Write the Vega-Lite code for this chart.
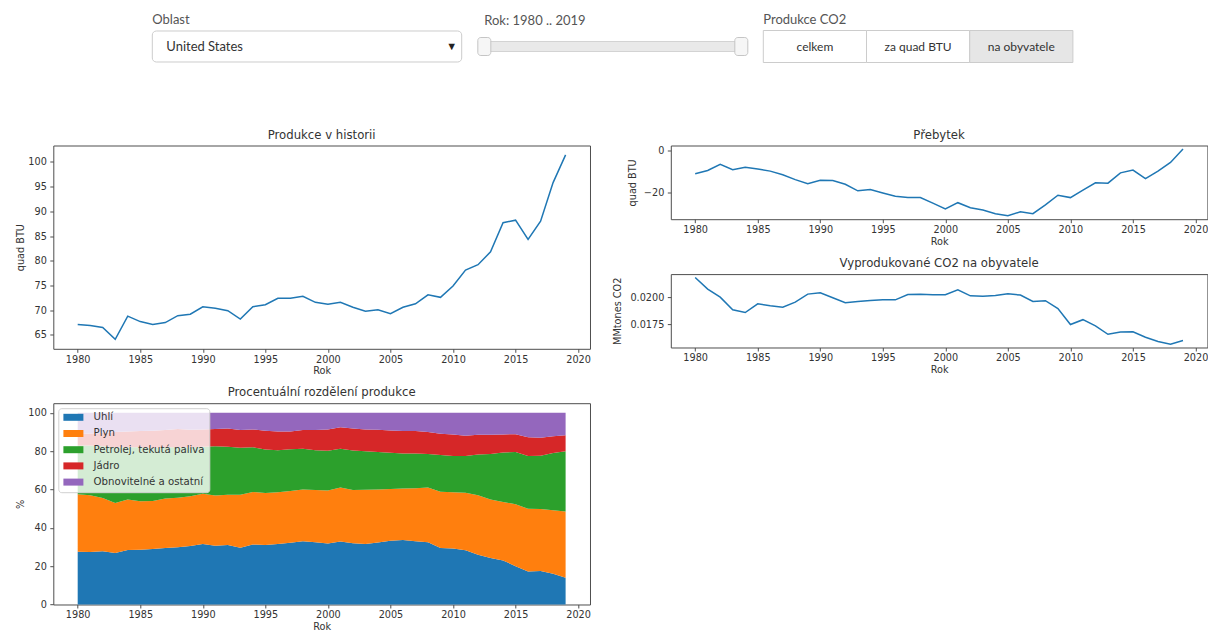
{
  "$schema": "https://vega.github.io/schema/vega-lite/v6.json",
  "padding": {"left": 15.3, "top": 13.5, "right": 0, "bottom": 0},
  "background": "white",
  "config": {
    "view": {"stroke": "#4d4d4d", "strokeWidth": 1},
    "axis": {"labelFont": "DejaVu Sans", "labelFontSize": 9.7, "labelColor": "#333333", "titleFont": "DejaVu Sans", "titleFontSize": 9.7, "titleFontWeight": "normal", "titleColor": "#333333", "tickColor": "#4d4d4d", "tickSize": 3.5, "tickWidth": 1, "domain": false, "grid": false, "labelFlush": false, "labelOverlap": false},
    "axisX": {"labelPadding": 2, "titlePadding": 2},
    "axisY": {"labelPadding": 3.5},
    "title": {"font": "DejaVu Sans", "fontSize": 11.7, "fontWeight": "normal", "color": "#333333", "frame": "group", "anchor": "middle", "baseline": "bottom", "offset": 4},
    "line": {"color": "#1f77b4", "strokeWidth": 1.5}
  },
  "datasets": {
    "oblast": [{"oblast": "United States"}],
    "rok": [{"Rok": 1980}, {"Rok": 2019}],
    "tlacitka": [
      {"tlacitko": "celkem", "vybrano": "ne"},
      {"tlacitko": "za quad BTU", "vybrano": "ne"},
      {"tlacitko": "na obyvatele", "vybrano": "ano"}
    ],
    "rocni": [
      {"Rok": 1980, "Produkce": 67.1, "Prebytek": -10.9, "CO2": 0.02182},
      {"Rok": 1981, "Produkce": 66.9, "Prebytek": -9.4, "CO2": 0.02074},
      {"Rok": 1982, "Produkce": 66.5, "Prebytek": -6.5, "CO2": 0.02000},
      {"Rok": 1983, "Produkce": 64.1, "Prebytek": -9.0, "CO2": 0.01883},
      {"Rok": 1984, "Produkce": 68.8, "Prebytek": -7.9, "CO2": 0.01858},
      {"Rok": 1985, "Produkce": 67.7, "Prebytek": -8.7, "CO2": 0.01938},
      {"Rok": 1986, "Produkce": 67.1, "Prebytek": -9.7, "CO2": 0.01920},
      {"Rok": 1987, "Produkce": 67.5, "Prebytek": -11.4, "CO2": 0.01907},
      {"Rok": 1988, "Produkce": 68.9, "Prebytek": -13.7, "CO2": 0.01954},
      {"Rok": 1989, "Produkce": 69.2, "Prebytek": -15.6, "CO2": 0.02028},
      {"Rok": 1990, "Produkce": 70.7, "Prebytek": -14.0, "CO2": 0.02040},
      {"Rok": 1991, "Produkce": 70.4, "Prebytek": -14.1, "CO2": 0.01994},
      {"Rok": 1992, "Produkce": 69.9, "Prebytek": -15.9, "CO2": 0.01948},
      {"Rok": 1993, "Produkce": 68.2, "Prebytek": -19.0, "CO2": 0.01960},
      {"Rok": 1994, "Produkce": 70.7, "Prebytek": -18.4, "CO2": 0.01969},
      {"Rok": 1995, "Produkce": 71.1, "Prebytek": -20.0, "CO2": 0.01975},
      {"Rok": 1996, "Produkce": 72.4, "Prebytek": -21.6, "CO2": 0.01975},
      {"Rok": 1997, "Produkce": 72.4, "Prebytek": -22.2, "CO2": 0.02025},
      {"Rok": 1998, "Produkce": 72.8, "Prebytek": -22.2, "CO2": 0.02028},
      {"Rok": 1999, "Produkce": 71.6, "Prebytek": -24.8, "CO2": 0.02022},
      {"Rok": 2000, "Produkce": 71.2, "Prebytek": -27.6, "CO2": 0.02022},
      {"Rok": 2001, "Produkce": 71.6, "Prebytek": -24.6, "CO2": 0.02068},
      {"Rok": 2002, "Produkce": 70.6, "Prebytek": -27.0, "CO2": 0.02012},
      {"Rok": 2003, "Produkce": 69.8, "Prebytek": -28.1, "CO2": 0.02009},
      {"Rok": 2004, "Produkce": 70.1, "Prebytek": -29.8, "CO2": 0.02015},
      {"Rok": 2005, "Produkce": 69.3, "Prebytek": -30.8, "CO2": 0.02031},
      {"Rok": 2006, "Produkce": 70.6, "Prebytek": -28.9, "CO2": 0.02019},
      {"Rok": 2007, "Produkce": 71.3, "Prebytek": -29.8, "CO2": 0.01961},
      {"Rok": 2008, "Produkce": 73.1, "Prebytek": -25.6, "CO2": 0.01967},
      {"Rok": 2009, "Produkce": 72.6, "Prebytek": -21.1, "CO2": 0.01895},
      {"Rok": 2010, "Produkce": 74.9, "Prebytek": -22.2, "CO2": 0.01747},
      {"Rok": 2011, "Produkce": 78.1, "Prebytek": -18.7, "CO2": 0.01792},
      {"Rok": 2012, "Produkce": 79.2, "Prebytek": -15.2, "CO2": 0.01735},
      {"Rok": 2013, "Produkce": 81.8, "Prebytek": -15.4, "CO2": 0.01657},
      {"Rok": 2014, "Produkce": 87.7, "Prebytek": -10.5, "CO2": 0.01678},
      {"Rok": 2015, "Produkce": 88.2, "Prebytek": -9.2, "CO2": 0.01681},
      {"Rok": 2016, "Produkce": 84.3, "Prebytek": -13.2, "CO2": 0.01630},
      {"Rok": 2017, "Produkce": 88.0, "Prebytek": -9.7, "CO2": 0.01590},
      {"Rok": 2018, "Produkce": 95.8, "Prebytek": -5.6, "CO2": 0.01566},
      {"Rok": 2019, "Produkce": 101.4, "Prebytek": 0.8, "CO2": 0.01599}
    ],
    "podil": [
      {"Rok":1980,"zdroj":"Uhlí","k":1,"podil":27.5},{"Rok":1980,"zdroj":"Plyn","k":2,"podil":30.0},{"Rok":1980,"zdroj":"Petrolej, tekutá paliva","k":3,"podil":25.5},{"Rok":1980,"zdroj":"Jádro","k":4,"podil":5.8},{"Rok":1980,"zdroj":"Obnovitelné a ostatní","k":5,"podil":11.2},
      {"Rok":1981,"zdroj":"Uhlí","k":1,"podil":27.4},{"Rok":1981,"zdroj":"Plyn","k":2,"podil":29.6},{"Rok":1981,"zdroj":"Petrolej, tekutá paliva","k":3,"podil":26.0},{"Rok":1981,"zdroj":"Jádro","k":4,"podil":6.2},{"Rok":1981,"zdroj":"Obnovitelné a ostatní","k":5,"podil":10.8},
      {"Rok":1982,"zdroj":"Uhlí","k":1,"podil":27.8},{"Rok":1982,"zdroj":"Plyn","k":2,"podil":27.7},{"Rok":1982,"zdroj":"Petrolej, tekutá paliva","k":3,"podil":27.0},{"Rok":1982,"zdroj":"Jádro","k":4,"podil":7.0},{"Rok":1982,"zdroj":"Obnovitelné a ostatní","k":5,"podil":10.5},
      {"Rok":1983,"zdroj":"Uhlí","k":1,"podil":26.8},{"Rok":1983,"zdroj":"Plyn","k":2,"podil":26.2},{"Rok":1983,"zdroj":"Petrolej, tekutá paliva","k":3,"podil":29.0},{"Rok":1983,"zdroj":"Jádro","k":4,"podil":8.0},{"Rok":1983,"zdroj":"Obnovitelné a ostatní","k":5,"podil":10.0},
      {"Rok":1984,"zdroj":"Uhlí","k":1,"podil":28.4},{"Rok":1984,"zdroj":"Plyn","k":2,"podil":26.4},{"Rok":1984,"zdroj":"Petrolej, tekutá paliva","k":3,"podil":27.2},{"Rok":1984,"zdroj":"Jádro","k":4,"podil":8.3},{"Rok":1984,"zdroj":"Obnovitelné a ostatní","k":5,"podil":9.7},
      {"Rok":1985,"zdroj":"Uhlí","k":1,"podil":28.5},{"Rok":1985,"zdroj":"Plyn","k":2,"podil":25.3},{"Rok":1985,"zdroj":"Petrolej, tekutá paliva","k":3,"podil":28.2},{"Rok":1985,"zdroj":"Jádro","k":4,"podil":8.5},{"Rok":1985,"zdroj":"Obnovitelné a ostatní","k":5,"podil":9.5},
      {"Rok":1986,"zdroj":"Uhlí","k":1,"podil":28.9},{"Rok":1986,"zdroj":"Plyn","k":2,"podil":25.1},{"Rok":1986,"zdroj":"Petrolej, tekutá paliva","k":3,"podil":27.6},{"Rok":1986,"zdroj":"Jádro","k":4,"podil":9.0},{"Rok":1986,"zdroj":"Obnovitelné a ostatní","k":5,"podil":9.4},
      {"Rok":1987,"zdroj":"Uhlí","k":1,"podil":29.5},{"Rok":1987,"zdroj":"Plyn","k":2,"podil":25.8},{"Rok":1987,"zdroj":"Petrolej, tekutá paliva","k":3,"podil":26.7},{"Rok":1987,"zdroj":"Jádro","k":4,"podil":9.0},{"Rok":1987,"zdroj":"Obnovitelné a ostatní","k":5,"podil":9.0},
      {"Rok":1988,"zdroj":"Uhlí","k":1,"podil":29.8},{"Rok":1988,"zdroj":"Plyn","k":2,"podil":25.9},{"Rok":1988,"zdroj":"Petrolej, tekutá paliva","k":3,"podil":26.3},{"Rok":1988,"zdroj":"Jádro","k":4,"podil":9.5},{"Rok":1988,"zdroj":"Obnovitelné a ostatní","k":5,"podil":8.5},
      {"Rok":1989,"zdroj":"Uhlí","k":1,"podil":30.5},{"Rok":1989,"zdroj":"Plyn","k":2,"podil":26.0},{"Rok":1989,"zdroj":"Petrolej, tekutá paliva","k":3,"podil":25.5},{"Rok":1989,"zdroj":"Jádro","k":4,"podil":9.2},{"Rok":1989,"zdroj":"Obnovitelné a ostatní","k":5,"podil":8.8},
      {"Rok":1990,"zdroj":"Uhlí","k":1,"podil":31.5},{"Rok":1990,"zdroj":"Plyn","k":2,"podil":26.3},{"Rok":1990,"zdroj":"Petrolej, tekutá paliva","k":3,"podil":24.5},{"Rok":1990,"zdroj":"Jádro","k":4,"podil":9.0},{"Rok":1990,"zdroj":"Obnovitelné a ostatní","k":5,"podil":8.7},
      {"Rok":1991,"zdroj":"Uhlí","k":1,"podil":30.7},{"Rok":1991,"zdroj":"Plyn","k":2,"podil":26.1},{"Rok":1991,"zdroj":"Petrolej, tekutá paliva","k":3,"podil":25.7},{"Rok":1991,"zdroj":"Jádro","k":4,"podil":9.0},{"Rok":1991,"zdroj":"Obnovitelné a ostatní","k":5,"podil":8.5},
      {"Rok":1992,"zdroj":"Uhlí","k":1,"podil":31.0},{"Rok":1992,"zdroj":"Plyn","k":2,"podil":26.3},{"Rok":1992,"zdroj":"Petrolej, tekutá paliva","k":3,"podil":25.0},{"Rok":1992,"zdroj":"Jádro","k":4,"podil":9.5},{"Rok":1992,"zdroj":"Obnovitelné a ostatní","k":5,"podil":8.2},
      {"Rok":1993,"zdroj":"Uhlí","k":1,"podil":29.6},{"Rok":1993,"zdroj":"Plyn","k":2,"podil":27.6},{"Rok":1993,"zdroj":"Petrolej, tekutá paliva","k":3,"podil":24.5},{"Rok":1993,"zdroj":"Jádro","k":4,"podil":9.3},{"Rok":1993,"zdroj":"Obnovitelné a ostatní","k":5,"podil":9.0},
      {"Rok":1994,"zdroj":"Uhlí","k":1,"podil":31.3},{"Rok":1994,"zdroj":"Plyn","k":2,"podil":27.4},{"Rok":1994,"zdroj":"Petrolej, tekutá paliva","k":3,"podil":23.3},{"Rok":1994,"zdroj":"Jádro","k":4,"podil":9.3},{"Rok":1994,"zdroj":"Obnovitelné a ostatní","k":5,"podil":8.7},
      {"Rok":1995,"zdroj":"Uhlí","k":1,"podil":31.0},{"Rok":1995,"zdroj":"Plyn","k":2,"podil":27.2},{"Rok":1995,"zdroj":"Petrolej, tekutá paliva","k":3,"podil":22.6},{"Rok":1995,"zdroj":"Jádro","k":4,"podil":9.8},{"Rok":1995,"zdroj":"Obnovitelné a ostatní","k":5,"podil":9.4},
      {"Rok":1996,"zdroj":"Uhlí","k":1,"podil":31.5},{"Rok":1996,"zdroj":"Plyn","k":2,"podil":27.0},{"Rok":1996,"zdroj":"Petrolej, tekutá paliva","k":3,"podil":22.0},{"Rok":1996,"zdroj":"Jádro","k":4,"podil":9.7},{"Rok":1996,"zdroj":"Obnovitelné a ostatní","k":5,"podil":9.8},
      {"Rok":1997,"zdroj":"Uhlí","k":1,"podil":32.2},{"Rok":1997,"zdroj":"Plyn","k":2,"podil":27.0},{"Rok":1997,"zdroj":"Petrolej, tekutá paliva","k":3,"podil":21.8},{"Rok":1997,"zdroj":"Jádro","k":4,"podil":9.3},{"Rok":1997,"zdroj":"Obnovitelné a ostatní","k":5,"podil":9.7},
      {"Rok":1998,"zdroj":"Uhlí","k":1,"podil":33.0},{"Rok":1998,"zdroj":"Plyn","k":2,"podil":27.0},{"Rok":1998,"zdroj":"Petrolej, tekutá paliva","k":3,"podil":21.2},{"Rok":1998,"zdroj":"Jádro","k":4,"podil":9.8},{"Rok":1998,"zdroj":"Obnovitelné a ostatní","k":5,"podil":9.0},
      {"Rok":1999,"zdroj":"Uhlí","k":1,"podil":32.5},{"Rok":1999,"zdroj":"Plyn","k":2,"podil":27.2},{"Rok":1999,"zdroj":"Petrolej, tekutá paliva","k":3,"podil":20.8},{"Rok":1999,"zdroj":"Jádro","k":4,"podil":10.5},{"Rok":1999,"zdroj":"Obnovitelné a ostatní","k":5,"podil":9.0},
      {"Rok":2000,"zdroj":"Uhlí","k":1,"podil":31.8},{"Rok":2000,"zdroj":"Plyn","k":2,"podil":27.7},{"Rok":2000,"zdroj":"Petrolej, tekutá paliva","k":3,"podil":20.7},{"Rok":2000,"zdroj":"Jádro","k":4,"podil":11.1},{"Rok":2000,"zdroj":"Obnovitelné a ostatní","k":5,"podil":8.7},
      {"Rok":2001,"zdroj":"Uhlí","k":1,"podil":32.8},{"Rok":2001,"zdroj":"Plyn","k":2,"podil":28.2},{"Rok":2001,"zdroj":"Petrolej, tekutá paliva","k":3,"podil":20.3},{"Rok":2001,"zdroj":"Jádro","k":4,"podil":11.2},{"Rok":2001,"zdroj":"Obnovitelné a ostatní","k":5,"podil":7.5},
      {"Rok":2002,"zdroj":"Uhlí","k":1,"podil":32.0},{"Rok":2002,"zdroj":"Plyn","k":2,"podil":27.7},{"Rok":2002,"zdroj":"Petrolej, tekutá paliva","k":3,"podil":20.6},{"Rok":2002,"zdroj":"Jádro","k":4,"podil":11.5},{"Rok":2002,"zdroj":"Obnovitelné a ostatní","k":5,"podil":8.2},
      {"Rok":2003,"zdroj":"Uhlí","k":1,"podil":31.5},{"Rok":2003,"zdroj":"Plyn","k":2,"podil":28.3},{"Rok":2003,"zdroj":"Petrolej, tekutá paliva","k":3,"podil":20.2},{"Rok":2003,"zdroj":"Jádro","k":4,"podil":11.3},{"Rok":2003,"zdroj":"Obnovitelné a ostatní","k":5,"podil":8.7},
      {"Rok":2004,"zdroj":"Uhlí","k":1,"podil":32.3},{"Rok":2004,"zdroj":"Plyn","k":2,"podil":27.7},{"Rok":2004,"zdroj":"Petrolej, tekutá paliva","k":3,"podil":19.5},{"Rok":2004,"zdroj":"Jádro","k":4,"podil":11.7},{"Rok":2004,"zdroj":"Obnovitelné a ostatní","k":5,"podil":8.8},
      {"Rok":2005,"zdroj":"Uhlí","k":1,"podil":33.2},{"Rok":2005,"zdroj":"Plyn","k":2,"podil":27.0},{"Rok":2005,"zdroj":"Petrolej, tekutá paliva","k":3,"podil":19.0},{"Rok":2005,"zdroj":"Jádro","k":4,"podil":11.6},{"Rok":2005,"zdroj":"Obnovitelné a ostatní","k":5,"podil":9.2},
      {"Rok":2006,"zdroj":"Uhlí","k":1,"podil":33.6},{"Rok":2006,"zdroj":"Plyn","k":2,"podil":26.9},{"Rok":2006,"zdroj":"Petrolej, tekutá paliva","k":3,"podil":18.3},{"Rok":2006,"zdroj":"Jádro","k":4,"podil":11.7},{"Rok":2006,"zdroj":"Obnovitelné a ostatní","k":5,"podil":9.5},
      {"Rok":2007,"zdroj":"Uhlí","k":1,"podil":33.0},{"Rok":2007,"zdroj":"Plyn","k":2,"podil":27.7},{"Rok":2007,"zdroj":"Petrolej, tekutá paliva","k":3,"podil":18.1},{"Rok":2007,"zdroj":"Jádro","k":4,"podil":11.7},{"Rok":2007,"zdroj":"Obnovitelné a ostatní","k":5,"podil":9.5},
      {"Rok":2008,"zdroj":"Uhlí","k":1,"podil":32.5},{"Rok":2008,"zdroj":"Plyn","k":2,"podil":28.5},{"Rok":2008,"zdroj":"Petrolej, tekutá paliva","k":3,"podil":17.5},{"Rok":2008,"zdroj":"Jádro","k":4,"podil":11.5},{"Rok":2008,"zdroj":"Obnovitelné a ostatní","k":5,"podil":10.0},
      {"Rok":2009,"zdroj":"Uhlí","k":1,"podil":29.5},{"Rok":2009,"zdroj":"Plyn","k":2,"podil":29.3},{"Rok":2009,"zdroj":"Petrolej, tekutá paliva","k":3,"podil":19.2},{"Rok":2009,"zdroj":"Jádro","k":4,"podil":11.0},{"Rok":2009,"zdroj":"Obnovitelné a ostatní","k":5,"podil":11.0},
      {"Rok":2010,"zdroj":"Uhlí","k":1,"podil":29.2},{"Rok":2010,"zdroj":"Plyn","k":2,"podil":29.3},{"Rok":2010,"zdroj":"Petrolej, tekutá paliva","k":3,"podil":19.0},{"Rok":2010,"zdroj":"Jádro","k":4,"podil":11.2},{"Rok":2010,"zdroj":"Obnovitelné a ostatní","k":5,"podil":11.3},
      {"Rok":2011,"zdroj":"Uhlí","k":1,"podil":28.3},{"Rok":2011,"zdroj":"Plyn","k":2,"podil":30.0},{"Rok":2011,"zdroj":"Petrolej, tekutá paliva","k":3,"podil":19.1},{"Rok":2011,"zdroj":"Jádro","k":4,"podil":10.6},{"Rok":2011,"zdroj":"Obnovitelné a ostatní","k":5,"podil":12.0},
      {"Rok":2012,"zdroj":"Uhlí","k":1,"podil":26.0},{"Rok":2012,"zdroj":"Plyn","k":2,"podil":31.0},{"Rok":2012,"zdroj":"Petrolej, tekutá paliva","k":3,"podil":21.3},{"Rok":2012,"zdroj":"Jádro","k":4,"podil":10.2},{"Rok":2012,"zdroj":"Obnovitelné a ostatní","k":5,"podil":11.5},
      {"Rok":2013,"zdroj":"Uhlí","k":1,"podil":24.2},{"Rok":2013,"zdroj":"Plyn","k":2,"podil":30.6},{"Rok":2013,"zdroj":"Petrolej, tekutá paliva","k":3,"podil":23.7},{"Rok":2013,"zdroj":"Jádro","k":4,"podil":10.0},{"Rok":2013,"zdroj":"Obnovitelné a ostatní","k":5,"podil":11.5},
      {"Rok":2014,"zdroj":"Uhlí","k":1,"podil":23.0},{"Rok":2014,"zdroj":"Plyn","k":2,"podil":30.5},{"Rok":2014,"zdroj":"Petrolej, tekutá paliva","k":3,"podil":25.8},{"Rok":2014,"zdroj":"Jádro","k":4,"podil":9.4},{"Rok":2014,"zdroj":"Obnovitelné a ostatní","k":5,"podil":11.3},
      {"Rok":2015,"zdroj":"Uhlí","k":1,"podil":20.0},{"Rok":2015,"zdroj":"Plyn","k":2,"podil":32.3},{"Rok":2015,"zdroj":"Petrolej, tekutá paliva","k":3,"podil":27.2},{"Rok":2015,"zdroj":"Jádro","k":4,"podil":9.3},{"Rok":2015,"zdroj":"Obnovitelné a ostatní","k":5,"podil":11.2},
      {"Rok":2016,"zdroj":"Uhlí","k":1,"podil":17.2},{"Rok":2016,"zdroj":"Plyn","k":2,"podil":32.8},{"Rok":2016,"zdroj":"Petrolej, tekutá paliva","k":3,"podil":27.5},{"Rok":2016,"zdroj":"Jádro","k":4,"podil":9.8},{"Rok":2016,"zdroj":"Obnovitelné a ostatní","k":5,"podil":12.7},
      {"Rok":2017,"zdroj":"Uhlí","k":1,"podil":17.5},{"Rok":2017,"zdroj":"Plyn","k":2,"podil":32.3},{"Rok":2017,"zdroj":"Petrolej, tekutá paliva","k":3,"podil":27.8},{"Rok":2017,"zdroj":"Jádro","k":4,"podil":9.4},{"Rok":2017,"zdroj":"Obnovitelné a ostatní","k":5,"podil":13.0},
      {"Rok":2018,"zdroj":"Uhlí","k":1,"podil":16.0},{"Rok":2018,"zdroj":"Plyn","k":2,"podil":33.2},{"Rok":2018,"zdroj":"Petrolej, tekutá paliva","k":3,"podil":29.8},{"Rok":2018,"zdroj":"Jádro","k":4,"podil":8.8},{"Rok":2018,"zdroj":"Obnovitelné a ostatní","k":5,"podil":12.2},
      {"Rok":2019,"zdroj":"Uhlí","k":1,"podil":14.0},{"Rok":2019,"zdroj":"Plyn","k":2,"podil":34.5},{"Rok":2019,"zdroj":"Petrolej, tekutá paliva","k":3,"podil":31.5},{"Rok":2019,"zdroj":"Jádro","k":4,"podil":8.3},{"Rok":2019,"zdroj":"Obnovitelné a ostatní","k":5,"podil":11.7}
    ]
  },
  "spacing": 65,
  "resolve": {"scale": {"color": "independent"}, "legend": {"color": "independent"}},
  "vconcat": [
    {
      "bounds": "flush",
      "center": true,
      "spacing": 22,
      "hconcat": [
        {
          "width": 77, "height": 32,
          "view": {"stroke": null},
          "data": {"name": "oblast"},
          "mark": {"type": "rect", "opacity": 0},
          "encoding": {}
        },
        {
          "width": 309.4, "height": 31,
          "view": {"stroke": null},
          "title": {"text": "Oblast", "anchor": "start", "font": "Lato", "fontSize": 13, "color": "#555555", "offset": 3.5},
          "data": {"name": "oblast"},
          "layer": [
            {"mark": {"type": "rect", "fill": "#ffffff", "stroke": "#cccccc", "strokeWidth": 1, "cornerRadius": 4}, "encoding": {}},
            {"mark": {"type": "text", "align": "left", "baseline": "middle", "dx": -140.7, "font": "Lato", "fontSize": 13, "color": "#333333"}, "encoding": {"text": {"field": "oblast"}}},
            {"mark": {"type": "text", "align": "center", "baseline": "middle", "dx": 144.7, "fontSize": 11, "color": "#222222", "text": "▼"}, "encoding": {}}
          ]
        },
        {
          "width": 257, "height": 10,
          "view": {"stroke": null},
          "title": {"text": "Rok: 1980 .. 2019", "anchor": "start", "font": "Lato", "fontSize": 13, "color": "#555555", "offset": 9},
          "data": {"name": "rok"},
          "layer": [
            {
              "mark": {"type": "rect", "fill": "#e9e9e9", "stroke": "#d3d3d3", "strokeWidth": 1, "cornerRadius": 3},
              "encoding": {
                "x": {"aggregate": "min", "field": "Rok", "type": "quantitative", "scale": {"domain": [1980, 2019], "nice": false, "zero": false}, "axis": null},
                "x2": {"aggregate": "max", "field": "Rok"}
              }
            },
            {
              "mark": {"type": "tick", "thickness": 13, "size": 18, "cornerRadius": 3, "fill": "#f6f6f6", "stroke": "#c5c5c5", "strokeWidth": 1, "opacity": 1},
              "encoding": {"x": {"field": "Rok", "type": "quantitative"}}
            }
          ]
        },
        {
          "width": 309.6, "height": 32,
          "view": {"stroke": null},
          "title": {"text": "Produkce CO2", "anchor": "start", "font": "Lato", "fontSize": 13, "color": "#555555", "offset": 3},
          "data": {"name": "tlacitka"},
          "encoding": {"x": {"field": "tlacitko", "type": "nominal", "sort": null, "scale": {"paddingInner": 0, "paddingOuter": 0}, "axis": null}},
          "layer": [
            {"mark": {"type": "rect", "stroke": "#cccccc", "strokeWidth": 1}, "encoding": {"fill": {"field": "vybrano", "type": "nominal", "scale": {"domain": ["ne", "ano"], "range": ["#ffffff", "#e6e6e6"]}, "legend": null}}},
            {"mark": {"type": "text", "baseline": "middle", "font": "Lato", "fontSize": 12, "color": "#333333"}, "encoding": {"text": {"field": "tlacitko"}}}
          ]
        }
      ]
    },
    {
      "spacing": 20.5,
      "resolve": {"scale": {"color": "independent"}, "legend": {"color": "independent"}},
      "hconcat": [
        {
          "bounds": "flush",
          "spacing": 53.7,
          "resolve": {"scale": {"color": "independent"}, "legend": {"color": "independent"}},
          "vconcat": [
            {
              "width": 536.7, "height": 203.3,
              "title": "Produkce v historii",
              "data": {"name": "rocni"},
              "mark": {"type": "line"},
              "encoding": {
                "x": {"field": "Rok", "type": "quantitative", "scale": {"domain": [1978.05, 2020.95], "nice": false, "zero": false}, "axis": {"values": [1980, 1985, 1990, 1995, 2000, 2005, 2010, 2015, 2020], "format": "d", "title": "Rok"}},
                "y": {"field": "Produkce", "type": "quantitative", "scale": {"domain": [62.2, 103.3], "nice": false, "zero": false}, "axis": {"values": [65, 70, 75, 80, 85, 90, 95, 100], "title": "quad BTU", "titlePadding": 2}}
              }
            },
            {
              "width": 536.7, "height": 201.3,
              "title": "Procentuální rozdělení produkce",
              "data": {"name": "podil"},
              "mark": {"type": "area", "opacity": 1, "interpolate": "linear"},
              "encoding": {
                "x": {"field": "Rok", "type": "quantitative", "scale": {"domain": [1978.05, 2020.95], "nice": false, "zero": false}, "axis": {"values": [1980, 1985, 1990, 1995, 2000, 2005, 2010, 2015, 2020], "format": "d", "title": "Rok"}},
                "y": {"field": "podil", "type": "quantitative", "stack": "zero", "scale": {"domain": [0, 105], "nice": false}, "axis": {"values": [0, 20, 40, 60, 80, 100], "title": "%", "titlePadding": 2}},
                "order": {"field": "k", "type": "quantitative"},
                "color": {
                  "field": "zdroj", "type": "nominal",
                  "scale": {"domain": ["Uhlí", "Plyn", "Petrolej, tekutá paliva", "Jádro", "Obnovitelné a ostatní"], "range": ["#1f77b4", "#ff7f0e", "#2ca02c", "#d62728", "#9467bd"]},
                  "legend": {"orient": "top-left", "offset": 5, "title": null, "fillColor": "rgba(255,255,255,0.8)", "strokeColor": "#d0d0d0", "cornerRadius": 3, "padding": 4, "symbolType": "M-2,-0.7H2V0.7H-2Z", "symbolSize": 100, "symbolStrokeWidth": 0, "symbolOpacity": 1, "symbolOffset": 6, "labelFont": "DejaVu Sans", "labelFontSize": 10.2, "labelColor": "#333333", "rowPadding": 5.2, "labelOffset": 15}
                }
              }
            }
          ]
        },
        {
          "bounds": "flush",
          "spacing": 54.6,
          "vconcat": [
            {
              "width": 536.6, "height": 73.7,
              "title": "Přebytek",
              "data": {"name": "rocni"},
              "mark": {"type": "line"},
              "encoding": {
                "x": {"field": "Rok", "type": "quantitative", "scale": {"domain": [1978.05, 2020.95], "nice": false, "zero": false}, "axis": {"values": [1980, 1985, 1990, 1995, 2000, 2005, 2010, 2015, 2020], "format": "d", "title": "Rok"}},
                "y": {"field": "Prebytek", "type": "quantitative", "scale": {"domain": [-32.4, 2.4], "nice": false, "zero": false}, "axis": {"values": [0, -20], "title": "quad BTU", "titlePadding": 6}}
              }
            },
            {
              "width": 536.6, "height": 73.4,
              "title": "Vyprodukované CO2 na obyvatele",
              "data": {"name": "rocni"},
              "mark": {"type": "line"},
              "encoding": {
                "x": {"field": "Rok", "type": "quantitative", "scale": {"domain": [1978.05, 2020.95], "nice": false, "zero": false}, "axis": {"values": [1980, 1985, 1990, 1995, 2000, 2005, 2010, 2015, 2020], "format": "d", "title": "Rok"}},
                "y": {"field": "CO2", "type": "quantitative", "scale": {"domain": [0.01535, 0.02213], "nice": false, "zero": false}, "axis": {"values": [0.0175, 0.02], "format": ".4f", "title": "MMtones CO2", "titlePadding": 7}}
              }
            }
          ]
        }
      ]
    }
  ]
}
